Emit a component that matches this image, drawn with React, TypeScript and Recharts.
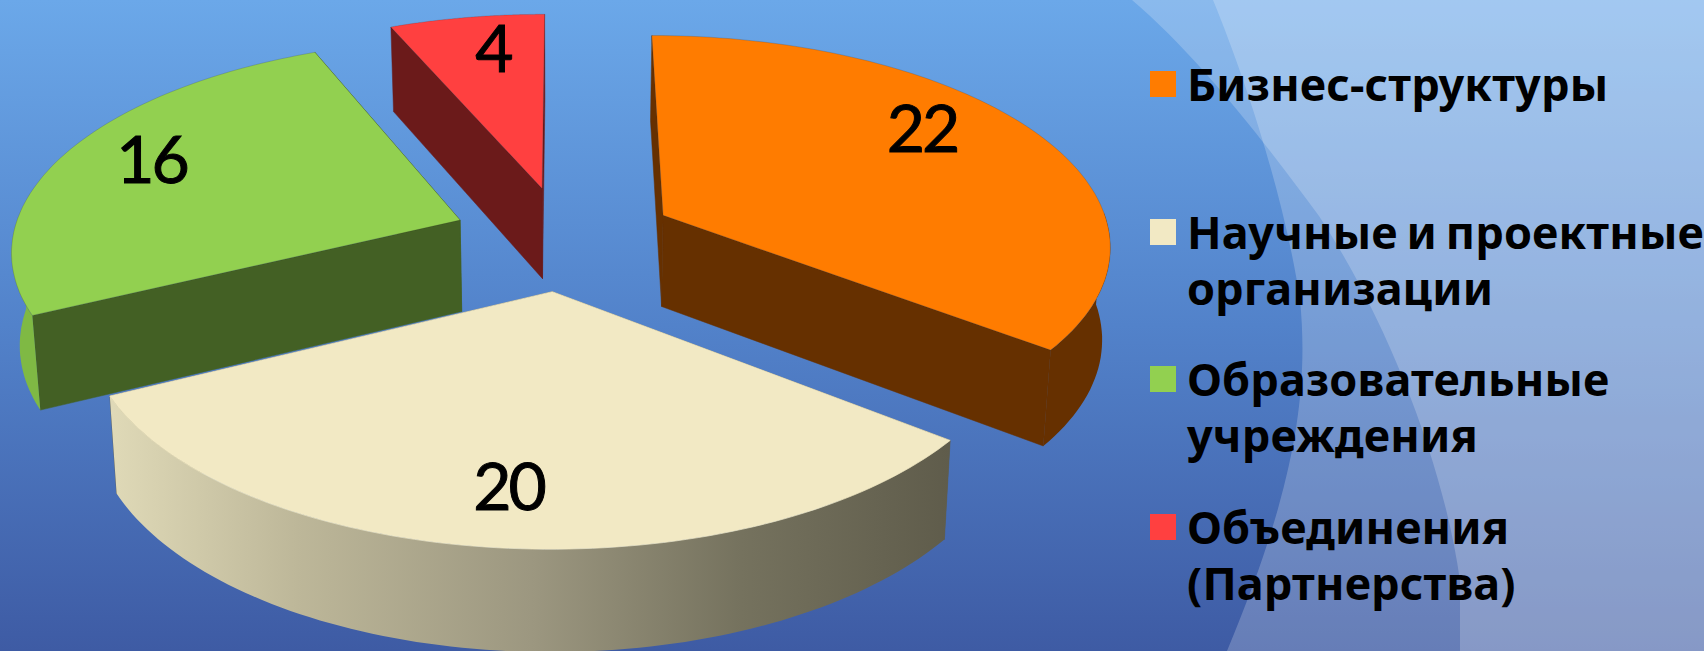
import { PieChart, Pie, Legend } from 'recharts';

const categories = ['Бизнес-структуры', 'Научные и проектные организации', 'Образовательные учреждения', 'Объединения (Партнерства)'];
const values = [22, 20, 16, 4];
const legendLines = [['Бизнес-структуры'], ['Научные и проектные', 'организации'], ['Образовательные', 'учреждения'], ['Объединения', '(Партнерства)']];

const topColors = ['#FF7C00', '#F2E9C4', '#92D050', '#FF4040'];
const cutColors = ['#663000', '#5F5C4B', '#436024', '#6B1A1A'];
const rimColors = ['#663000', 'url(#creamRim)', '#7FB944', '#6B1A1A'];
const labelRadii = [0.775, 0.79, 0.79, 0.79];
const labelTurns = [6.9, 0, -1.6, -1.8];

// slices are painted back to front, so the front slice has to come last
const paintOrder = [0, 3, 2, 1];
const pieData = paintOrder.map((i) => ({ name: categories[i], value: values[i], slot: i }));

const WIDTH = 1704;
const HEIGHT = 651;
const CX = 564;
const CY = 238;
const RADIUS = 448;
const SQUASH = 0.466;
const PERSPECTIVE = 0.13;
const EXPLODE = 0.25;
const DEPTH = 92;
const RAD = Math.PI / 180;

// plane point in radius units -> screen point; bottom=true gives the lower rim
function project(x: number, y: number, bottom = false): [number, number] {
  const s = 1 / (1 - PERSPECTIVE * y);
  let px = CX + x * RADIUS * s;
  let py = CY + y * RADIUS * SQUASH * s;
  if (bottom) {
    px = CX + (px - CX) * 0.985;
    py = py + DEPTH + (py - CY) * 0.035;
  }
  return [px, py];
}

function toPath(points: [number, number][]) {
  return 'M' + points.map((p) => `${p[0].toFixed(1)},${p[1].toFixed(1)}`).join('L') + 'Z';
}

function Slice3D(props: any) {
  const { startAngle, endAngle, payload } = props;
  const slot = payload.slot;
  const mid = ((startAngle + endAngle) / 2) * RAD;
  const ox = Math.cos(mid) * EXPLODE;
  const oy = -Math.sin(mid) * EXPLODE;

  const rimAt = (deg: number, bottom: boolean) =>
    project(ox + Math.cos(deg * RAD), oy - Math.sin(deg * RAD), bottom);

  const steps = 90;
  const angles: number[] = [];
  for (let i = 0; i <= steps; i++) angles.push(startAngle + ((endAngle - startAngle) * i) / steps);
  // only the near half of the rim faces the viewer
  const nearAngles = angles.filter((deg) => -Math.sin(deg * RAD) >= -0.03);

  const apexTop = project(ox, oy);
  const apexBottom = project(ox, oy, true);
  const cutFace = (deg: number) => toPath([apexTop, rimAt(deg, false), rimAt(deg, true), apexBottom]);
  const rimTop = angles.map((deg) => rimAt(deg, false));
  const nearTop = nearAngles.map((deg) => rimAt(deg, false));
  const nearBottom = nearAngles.map((deg) => rimAt(deg, true));
  const edge = 'rgba(40,40,40,0.25)';

  return (
    <g>
      <path d={cutFace(startAngle)} fill={cutColors[slot]} stroke={cutColors[slot]} strokeWidth={0.5} />
      <path d={cutFace(endAngle)} fill={cutColors[slot]} stroke={cutColors[slot]} strokeWidth={0.5} />
      {nearAngles.length > 1 && (
        <path d={toPath([...nearTop, ...nearBottom.reverse()])} fill={rimColors[slot]} stroke="none" />
      )}
      <path d={toPath([apexTop, ...rimTop])} fill={topColors[slot]} stroke={slot === 1 ? topColors[slot] : edge} strokeWidth={0.7} />
    </g>
  );
}

function SliceLabel(props: any) {
  const { midAngle, payload, value } = props;
  const slot = payload ? payload.slot : props.slot;
  const a = (midAngle + labelTurns[slot]) * RAD;
  const dist = EXPLODE + labelRadii[slot];
  const [x, y] = project(Math.cos(a) * dist, -Math.sin(a) * dist);
  return (
    <text x={x - 1} y={y - 3} textAnchor="middle" dominantBaseline="central" fontFamily="Lato" fontSize={66} letterSpacing={-3} fill="#000" stroke="#000" strokeWidth={1}>
      {value}
    </text>
  );
}

function ChartLegend() {
  return (
    <div style={{ fontFamily: '"Noto Sans"', fontWeight: 700, fontSize: 45, lineHeight: '56px', color: '#000', letterSpacing: 0.15, wordSpacing: -3 }}>
      {legendLines.map((lines, i) => (
        <div key={i} style={{ position: 'relative', height: 147.5 }}>
          <div style={{ position: 'absolute', left: 0, top: 0, width: 26, height: 26, background: topColors[i] }} />
          <div style={{ position: 'absolute', left: 37, top: -15, whiteSpace: 'nowrap' }}>
            {lines.map((l) => (
              <div key={l}>{l}</div>
            ))}
          </div>
        </div>
      ))}
    </div>
  );
}

export default function App() {
  return (
    <div style={{ position: 'fixed', left: 0, top: 0, width: WIDTH, height: HEIGHT, overflow: 'hidden' }}>
      <svg width={WIDTH} height={HEIGHT} style={{ position: 'absolute', left: 0, top: 0 }}>
        <defs>
          <linearGradient id="pageFill" x1="0" y1="0" x2="0" y2="1">
            <stop offset="0" stopColor="#6BA8E9" />
            <stop offset="0.5" stopColor="#5282CA" />
            <stop offset="1" stopColor="#3E5BA4" />
          </linearGradient>
          <linearGradient id="creamRim" gradientUnits="userSpaceOnUse" x1="113" y1="0" x2="950" y2="0">
            <stop offset="0" stopColor="#DFD9B7" />
            <stop offset="0.22" stopColor="#BDB799" />
            <stop offset="0.5" stopColor="#9C9780" />
            <stop offset="0.75" stopColor="#75725E" />
            <stop offset="1" stopColor="#5F5C4B" />
          </linearGradient>
        </defs>
        <rect width={WIDTH} height={HEIGHT} fill="url(#pageFill)" />
        <path d="M1132,0 C1200,58 1267,145 1319,216 C1390,324 1445,470 1460,581 L1460,651 L1704,651 L1704,0 Z" fill="#fff" fillOpacity={0.21} />
        <path d="M1213,0 C1247,83 1285,200 1300,300 C1310,400 1290,500 1227,651 L1704,651 L1704,0 Z" fill="#fff" fillOpacity={0.21} />
      </svg>
      <div style={{ position: 'absolute', left: 0, top: 0 }}>
        <PieChart width={WIDTH} height={HEIGHT}>
          <Pie
            data={pieData}
            dataKey="value"
            nameKey="name"
            cx={CX}
            cy={CY}
            outerRadius={RADIUS}
            startAngle={-37.74}
            endAngle={322.26}
            paddingAngle={0}
            isAnimationActive={false}
            shape={Slice3D}
            label={SliceLabel}
            labelLine={false}
          />
          <Legend content={ChartLegend} wrapperStyle={{ left: 1150, top: 71, width: 554, height: 590 }} />
        </PieChart>
      </div>
    </div>
  );
}
